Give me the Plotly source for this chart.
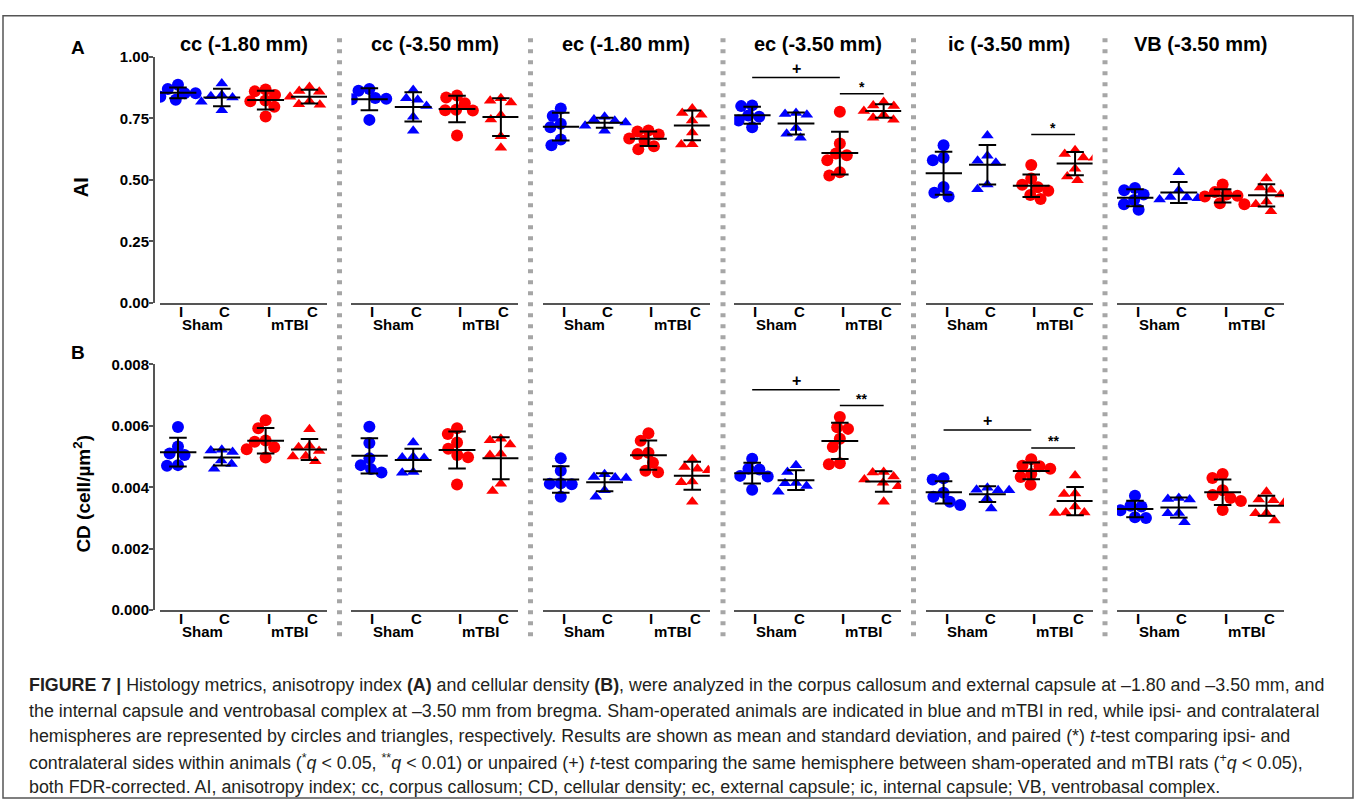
import math
import plotly.graph_objects as go

# ---------------- data ----------------
regions = ["cc (-1.80 mm)", "cc (-3.50 mm)", "ec (-1.80 mm)",
           "ec (-3.50 mm)", "ic (-3.50 mm)", "VB (-3.50 mm)"]
side_ticks = ["I", "C", "I", "C"]
group_names = ["Sham", "mTBI"]
ai_ticks = [0.0, 0.25, 0.50, 0.75, 1.00]
ai_ticktext = ["0.00", "0.25", "0.50", "0.75", "1.00"]
cd_ticks = [0.0, 0.002, 0.004, 0.006, 0.008]
cd_ticktext = ["0.000", "0.002", "0.004", "0.006", "0.008"]

# order of groups in each panel: Sham I, Sham C, mTBI I, mTBI C
ai_cc180 = [[0.852, 0.887, 0.870, 0.826, 0.838, 0.852],
            [0.892, 0.845, 0.840, 0.835, 0.783, 0.818],
            [0.868, 0.860, 0.845, 0.823, 0.820, 0.797, 0.758],
            [0.878, 0.862, 0.858, 0.838, 0.820, 0.808, 0.806]]
ai_cc350 = [[0.870, 0.863, 0.833, 0.830, 0.828, 0.744],
            [0.866, 0.832, 0.826, 0.800, 0.757, 0.700],
            [0.843, 0.835, 0.812, 0.785, 0.783, 0.782, 0.680],
            [0.832, 0.822, 0.815, 0.764, 0.746, 0.677, 0.631]]
ai_ec180 = [[0.790, 0.760, 0.728, 0.714, 0.664, 0.641],
            [0.757, 0.746, 0.740, 0.733, 0.720, 0.700],
            [0.701, 0.697, 0.685, 0.668, 0.660, 0.637, 0.624],
            [0.790, 0.772, 0.765, 0.741, 0.693, 0.645, 0.644]]
ai_ec350 = [[0.803, 0.800, 0.762, 0.757, 0.741, 0.714],
            [0.772, 0.768, 0.765, 0.711, 0.688, 0.671],
            [0.777, 0.648, 0.607, 0.600, 0.580, 0.531, 0.518],
            [0.817, 0.803, 0.800, 0.780, 0.765, 0.753, 0.745]]
ai_ic350 = [[0.641, 0.590, 0.580, 0.471, 0.447, 0.432],
            [0.680, 0.598, 0.578, 0.570, 0.481, 0.462],
            [0.560, 0.505, 0.480, 0.470, 0.456, 0.438, 0.422],
            [0.620, 0.605, 0.591, 0.590, 0.545, 0.514, 0.498]]
ai_vb350 = [[0.467, 0.458, 0.440, 0.418, 0.401, 0.378],
            [0.531, 0.458, 0.430, 0.428, 0.425, 0.420],
            [0.481, 0.450, 0.440, 0.435, 0.432, 0.405, 0.401],
            [0.505, 0.469, 0.460, 0.440, 0.412, 0.401, 0.372]]

cd_cc180 = [[0.00596, 0.00533, 0.00510, 0.00505, 0.00472, 0.00470],
            [0.00520, 0.00515, 0.00522, 0.00487, 0.00476, 0.00460],
            [0.00618, 0.00592, 0.00552, 0.00548, 0.00530, 0.00524, 0.00497],
            [0.00589, 0.00535, 0.00530, 0.00518, 0.00502, 0.00500, 0.00485]]
cd_cc350 = [[0.00597, 0.00544, 0.00494, 0.00472, 0.00459, 0.00448],
            [0.00546, 0.00499, 0.00497, 0.00495, 0.00450, 0.00447],
            [0.00592, 0.00573, 0.00546, 0.00525, 0.00505, 0.00498, 0.00409],
            [0.00558, 0.00553, 0.00539, 0.00509, 0.00505, 0.00411, 0.00388]]
cd_ec180 = [[0.00494, 0.00454, 0.00413, 0.00411, 0.00410, 0.00369],
            [0.00442, 0.00433, 0.00432, 0.00430, 0.00390, 0.00369],
            [0.00576, 0.00551, 0.00512, 0.00508, 0.00480, 0.00454, 0.00449],
            [0.00491, 0.00466, 0.00460, 0.00455, 0.00419, 0.00416, 0.00353]]
cd_ec350 = [[0.00493, 0.00460, 0.00458, 0.00437, 0.00435, 0.00392],
            [0.00472, 0.00450, 0.00414, 0.00413, 0.00404, 0.00385],
            [0.00629, 0.00595, 0.00590, 0.00558, 0.00531, 0.00478, 0.00475],
            [0.00450, 0.00448, 0.00435, 0.00425, 0.00415, 0.00403, 0.00353]]
cd_ic350 = [[0.00429, 0.00425, 0.00382, 0.00369, 0.00353, 0.00342],
            [0.00398, 0.00392, 0.00390, 0.00390, 0.00363, 0.00331],
            [0.00491, 0.00470, 0.00468, 0.00460, 0.00443, 0.00433, 0.00408],
            [0.00438, 0.00380, 0.00378, 0.00337, 0.00318, 0.00316, 0.00318]]
cd_vb350 = [[0.00372, 0.00340, 0.00337, 0.00325, 0.00302, 0.00300],
            [0.00365, 0.00362, 0.00360, 0.00316, 0.00315, 0.00286],
            [0.00443, 0.00430, 0.00390, 0.00375, 0.00365, 0.00355, 0.00326],
            [0.00385, 0.00360, 0.00358, 0.00350, 0.00316, 0.00315, 0.00292]]

ai_panels = [ai_cc180, ai_cc350, ai_ec180, ai_ec350, ai_ic350, ai_vb350]
cd_panels = [cd_cc180, cd_cc350, cd_ec180, cd_ec350, cd_ic350, cd_vb350]

# significance: (row, panel, from group, to group, bar value, label)
sig_marks = [(0, 3, 0, 2, 0.916, "+"), (0, 3, 2, 3, 0.850, "*"),
             (0, 4, 2, 3, 0.684, "*"),
             (1, 3, 0, 2, 0.00717, "+"), (1, 3, 2, 3, 0.00666, "**"),
             (1, 4, 0, 2, 0.005864, "+"), (1, 4, 2, 3, 0.00528, "**")]

caption_lines = [
    "<b>FIGURE 7 |</b> Histology metrics, anisotropy index <b>(A)</b> and cellular density <b>(B)</b>, were analyzed in the corpus callosum and external capsule at \u20131.80 and \u20133.50 mm, and",
    "the internal capsule and ventrobasal complex at \u20133.50 mm from bregma. Sham-operated animals are indicated in blue and mTBI in red, while ipsi- and contralateral",
    "hemispheres are represented by circles and triangles, respectively. Results are shown as mean and standard deviation, and paired (*) <i>t</i>-test comparing ipsi- and",
    "contralateral sides within animals (<sup>*</sup><i>q</i> < 0.05, <sup>**</sup><i>q</i> < 0.01) or unpaired (+) <i>t</i>-test comparing the same hemisphere between sham-operated and mTBI rats (<sup>+</sup><i>q</i> < 0.05),",
    "both FDR-corrected. AI, anisotropy index; cc, corpus callosum; CD, cellular density; ec, external capsule; ic, internal capsule; VB, ventrobasal complex.",
]

# ---------------- styling / geometry ----------------
W, H = 1357, 810
FONT = "Arial, Liberation Sans, sans-serif"
CAPFONT = "Liberation Sans, Arial, sans-serif"
BLUE, RED = "#0000FF", "#FF0000"
colors = [BLUE, BLUE, RED, RED]
symbols = ["circle", "triangle-up", "circle", "triangle-up"]
msizes = [12, 11, 12, 11]
panel_left = [160 + 191.4 * i for i in range(6)]
panel_w = 167
row_top = [49, 363]
row_bot = [300, 614]
row_max = [1.0, 0.008]
XR = [-0.41, 3.40]
px_per_x = panel_w / (XR[1] - XR[0])
SWARM_D = 11


def fx(x):
    return x / W


def fy(y):
    return 1 - y / H


def bold(size):
    return dict(family=FONT, size=size, color="black", weight="bold")


def swarm(values, px_y, diam):
    """beeswarm offsets (in px) so markers don't overlap too much"""
    order = sorted(range(len(values)), key=lambda i: -values[i])
    placed = []
    offs = [0.0] * len(values)
    for i in order:
        y = values[i] * px_y
        cands = [0.0]
        for (px_, py_) in placed:
            dy = abs(py_ - y)
            if dy < diam:
                dx = math.sqrt(diam * diam - dy * dy)
                cands += [px_ + dx, px_ - dx]
        cands.sort(key=lambda c: (abs(c), c))
        for c in cands:
            if all((c - a) ** 2 + (y - b) ** 2 >= diam * diam - 1e-6 for a, b in placed):
                offs[i] = c
                placed.append((c, y))
                break
    return offs


fig = go.Figure()
layout = {}
annotations = []
shapes = []

for r in range(2):
    panels = ai_panels if r == 0 else cd_panels
    px_y = (row_bot[r] - row_top[r]) / row_max[r]
    for p in range(6):
        k = r * 6 + p + 1
        xa = "x" if k == 1 else f"x{k}"
        ya = "y" if k == 1 else f"y{k}"
        xkey = "xaxis" if k == 1 else f"xaxis{k}"
        ykey = "yaxis" if k == 1 else f"yaxis{k}"
        layout[xkey] = dict(
            domain=[fx(panel_left[p]), fx(panel_left[p] + panel_w)],
            range=XR, anchor=ya, showgrid=False, zeroline=False,
            showline=True, linecolor="#555555", linewidth=2,
            tickvals=[0, 1, 2, 3], showticklabels=False, ticks="",
            fixedrange=True)
        ydict = dict(domain=[fy(row_bot[r]), fy(row_top[r])],
                     range=[0, row_max[r]], showgrid=False, zeroline=False,
                     fixedrange=True)
        if p == 0:
            ydict.update(anchor="free", position=fx(154), showline=True,
                         linecolor="#555555", linewidth=2, ticks="outside",
                         ticklen=4, tickwidth=2, tickcolor="#555555",
                         tickvals=ai_ticks if r == 0 else cd_ticks,
                         ticktext=ai_ticktext if r == 0 else cd_ticktext,
                         ticklabelstandoff=-3,
                         tickfont=bold(15))
        else:
            ydict.update(anchor=xa, visible=False)
        layout[ykey] = ydict

        # points
        for g in range(4):
            vals = panels[p][g]
            offs = swarm(vals, px_y, SWARM_D)
            fig.add_trace(go.Scatter(
                x=[g + o / px_per_x for o in offs], y=vals, xaxis=xa, yaxis=ya,
                mode="markers", showlegend=False, hoverinfo="skip",
                marker=dict(color=colors[g], symbol=symbols[g],
                            size=msizes[g], line=dict(width=0))))
        # mean and SD lines
        lx, ly = [], []
        for g in range(4):
            vals = panels[p][g]
            n = len(vals)
            m = sum(vals) / n
            sd = math.sqrt(sum((v - m) ** 2 for v in vals) / (n - 1))
            lx += [g - 0.42, g + 0.42, None, g, g, None,
                   g - 0.2, g + 0.2, None, g - 0.2, g + 0.2, None]
            ly += [m, m, None, m - sd, m + sd, None,
                   m - sd, m - sd, None, m + sd, m + sd, None]
        fig.add_trace(go.Scatter(x=lx, y=ly, xaxis=xa, yaxis=ya, mode="lines",
                                 line=dict(color="black", width=2),
                                 showlegend=False, hoverinfo="skip"))
        # side tick labels (I / C)
        for g, t in enumerate(side_ticks):
            annotations.append(dict(
                x=g, y=fy(row_bot[r] + 8.5), xref=xa, yref="paper", text=t,
                xshift=3, showarrow=False, xanchor="center", yanchor="middle",
                font=bold(15)))
        # group labels
        for j, name in enumerate(group_names):
            annotations.append(dict(
                x=0.55 + 2 * j, y=fy(row_bot[r] + 22), xref=xa, yref="paper",
                text=name, showarrow=False, xanchor="center", yanchor="middle",
                font=bold(15)))
        # titles (top row)
        if r == 0:
            annotations.append(dict(
                x=fx(panel_left[p] + panel_w / 2), y=fy(36), xref="paper",
                yref="paper", text=regions[p], showarrow=False,
                xanchor="center", yanchor="middle", font=bold(20)))

# significance bars
for (r, p, a, b, val, lab) in sig_marks:
    k = r * 6 + p + 1
    xa = "x" if k == 1 else f"x{k}"
    ya = "y" if k == 1 else f"y{k}"
    shapes.append(dict(type="line", xref=xa, yref=ya, x0=a, x1=b, y0=val,
                       y1=val, line=dict(color="black", width=1.5)))
    annotations.append(dict(
        x=(a + b) / 2, y=val, xref=xa, yref=ya, text=lab, showarrow=False,
        xanchor="center", yanchor="bottom",
        yshift=(-3 if lab.startswith("*") else -1),
        font=bold(16 if lab == "+" else 14)))

# dotted separators
for sx in [339.5, 530.5, 723, 913.5, 1105]:
    shapes.append(dict(type="line", xref="paper", yref="paper",
                       x0=fx(sx), x1=fx(sx), y0=fy(30), y1=fy(646),
                       line=dict(color="#A6A6A6", width=5, dash="4px,7px")))

# frame
shapes.append(dict(type="rect", xref="paper", yref="paper", x0=fx(3),
                   x1=fx(1353), y0=fy(806), y1=fy(7),
                   line=dict(color="#555555", width=1.5)))

# panel letters and y titles
annotations += [
    dict(x=fx(78), y=fy(39), xref="paper", yref="paper", text="A",
         xanchor="center", yanchor="middle", showarrow=False, font=bold(19)),
    dict(x=fx(78), y=fy(351), xref="paper", yref="paper", text="B",
         xanchor="center", yanchor="middle", showarrow=False, font=bold(19)),
    dict(x=fx(81), y=fy(182), xref="paper", yref="paper", text="AI",
         xanchor="center", yanchor="middle", textangle=-90, showarrow=False,
         font=bold(20)),
    dict(x=fx(82), y=fy(495), xref="paper", yref="paper",
         text="CD (cell/\u00b5m<sup>2</sup>)", xanchor="center",
         yanchor="middle", textangle=-90, showarrow=False, font=bold(19)),
]

# caption
for i, line in enumerate(caption_lines):
    annotations.append(dict(
        x=fx(27), y=fy(691 + 26 * i), xref="paper", yref="paper", text=line,
        showarrow=False, xanchor="left", yanchor="middle", align="left",
        font=dict(family=CAPFONT, size=17.85, color="#231F20")))

fig.update_layout(
    width=W, height=H, margin=dict(l=0, r=0, t=0, b=0),
    paper_bgcolor="white", plot_bgcolor="white",
    annotations=annotations, shapes=shapes, showlegend=False, **layout)

fig.write_html("out.html", config={"displayModeBar": False},
               post_script="document.body.style.margin='0px';"
                           "document.body.style.overflow='hidden';")
